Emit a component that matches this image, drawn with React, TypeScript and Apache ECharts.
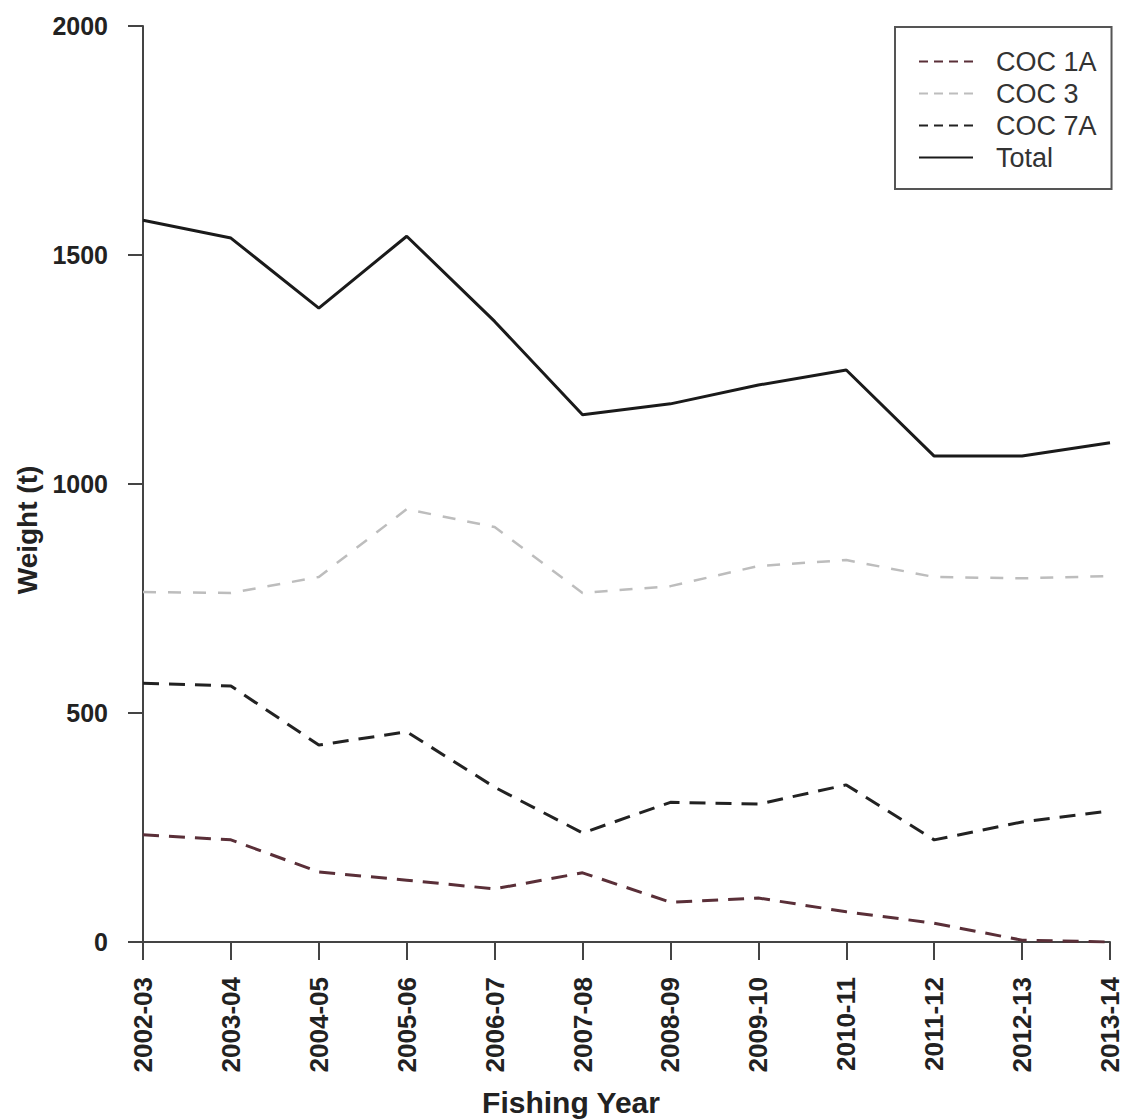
import React, { useEffect, useRef } from "react";
import * as echarts from "echarts";

const years = ["2002-03", "2003-04", "2004-05", "2005-06", "2006-07", "2007-08", "2008-09", "2009-10", "2010-11", "2011-12", "2012-13", "2013-14"];
const coc1A = [234, 223, 153, 135, 116, 151, 87, 96, 66, 41, 4, 0];
const coc3 = [764, 762, 797, 945, 906, 762, 777, 821, 834, 797, 794, 799];
const coc7A = [565, 559, 430, 459, 338, 238, 305, 301, 343, 223, 262, 286];
const total = [1576, 1537, 1384, 1541, 1355, 1151, 1175, 1216, 1249, 1061, 1061, 1090];
const yTicks = { min: 0, max: 2000, interval: 500 };

const FONT = "'Liberation Sans', Arial, sans-serif";

export default function App() {
  const ref = useRef<HTMLDivElement>(null);
  useEffect(() => {
    document.body.style.margin = "0";
    const chart = echarts.init(ref.current!, null, { renderer: "svg" });
    chart.setOption({
      animation: false,
      backgroundColor: "#ffffff",
      textStyle: { fontFamily: FONT },
      grid: { left: 143, right: 15, top: 26, bottom: 177, containLabel: false },
      legend: {
        left: 895,
        top: 27,
        orient: "vertical",
        padding: [21, 15, 18, 23],
        itemGap: 5,
        itemWidth: 54,
        itemHeight: 14,
        borderColor: "#555",
        borderWidth: 2,
        borderRadius: 0,
        itemStyle: { opacity: 0 },
        textStyle: { fontSize: 27, color: "#333", fontFamily: FONT, padding: [0, 0, 0, 18], lineHeight: 27 },
        data: [
          { name: "COC 1A", lineStyle: { type: [9, 6] } },
          { name: "COC 3", lineStyle: { type: [9, 6] } },
          { name: "COC 7A", lineStyle: { type: [9, 6] } },
          { name: "Total", lineStyle: { type: "solid" } },
        ],
      },
      xAxis: {
        type: "category",
        data: years,
        boundaryGap: false,
        axisLine: { lineStyle: { color: "#444", width: 2 } },
        axisTick: { length: 18, lineStyle: { color: "#444", width: 2 } },
        axisLabel: { rotate: 90, margin: 35, fontSize: 26, fontWeight: "bold", color: "#222", fontFamily: FONT },
        splitLine: { show: false },
      },
      yAxis: {
        type: "value",
        min: yTicks.min,
        max: yTicks.max,
        interval: yTicks.interval,
        axisLine: { show: true, lineStyle: { color: "#444", width: 2 } },
        axisTick: { show: true, length: 15, lineStyle: { color: "#444", width: 2 } },
        axisLabel: { margin: 35, fontSize: 25, fontWeight: "bold", color: "#222", fontFamily: FONT, formatter: (v: number) => String(v) },
        splitLine: { show: false },
      },
      graphic: [
        {
          type: "text",
          x: 571,
          y: 1102,
          style: { text: "Fishing Year", fontSize: 30, fontWeight: "bold", fill: "#222", fontFamily: FONT, textAlign: "center", textVerticalAlign: "middle" },
        },
        {
          type: "text",
          x: 27,
          y: 530,
          rotation: Math.PI / 2,
          style: { text: "Weight (t)", fontSize: 28, fontWeight: "bold", fill: "#222", fontFamily: FONT, textAlign: "center", textVerticalAlign: "middle" },
        },
      ],
      series: [
        {
          name: "COC 1A",
          type: "line",
          data: coc1A,
          symbol: "none",
          lineStyle: { color: "#5a2f38", width: 3, type: [16, 10] },
          itemStyle: { color: "#5a2f38" },
        },
        {
          name: "COC 3",
          type: "line",
          data: coc3,
          symbol: "none",
          lineStyle: { color: "#bdbdbd", width: 2.5, type: [13, 12] },
          itemStyle: { color: "#bdbdbd" },
        },
        {
          name: "COC 7A",
          type: "line",
          data: coc7A,
          symbol: "none",
          lineStyle: { color: "#222", width: 3, type: [16, 10] },
          itemStyle: { color: "#222" },
        },
        {
          name: "Total",
          type: "line",
          data: total,
          symbol: "none",
          lineStyle: { color: "#1a1a1a", width: 3 },
          itemStyle: { color: "#1a1a1a" },
        },
      ],
    });
    return () => chart.dispose();
  }, []);
  return <div ref={ref} style={{ width: 1125, height: 1119 }} />;
}
